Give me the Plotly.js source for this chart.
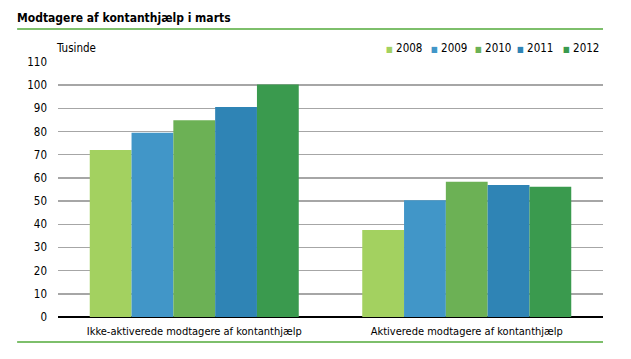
<!DOCTYPE html>
<html><head><meta charset="utf-8">
<script src="https://cdn.plot.ly/plotly-3.0.1.min.js"></script>
<style>html,body{margin:0;padding:0;background:#fff}#c{width:631px;height:359px}</style>
</head><body><div id="c"></div>
<script>
const categories = ["Ikke-aktiverede modtagere af kontanthjælp", "Aktiverede modtagere af kontanthjælp"];
const years = ["2008", "2009", "2010", "2011", "2012"];
const v2008 = [72.0, 37.5];
const v2009 = [79.5, 50.4];
const v2010 = [84.9, 58.3];
const v2011 = [90.6, 56.9];
const v2012 = [100.3, 56.2];
const yTicks = [0,10,20,30,40,50,60,70,80,90,100,110];
const colors = ["#a3d160", "#4196c8", "#6cb155", "#2f84b5", "#3a9a4e"];
const series = [v2008, v2009, v2010, v2011, v2012];
const FONT = "'DejaVu Sans Condensed', 'Liberation Sans Narrow', Arial, sans-serif";
const traces = series.map((s, i) => ({
  type: "bar", name: years[i], x: categories, y: s,
  marker: {color: colors[i], line: {width: 0}}
}));
// legend entries as annotations (positions in paper fraction)
const legendX = [0.598, 0.681, 0.761, 0.838, 0.923];
const legendAnn = years.map((yr, i) => ({
  text: `<span style="color:${colors[i]};font-size:8px">■</span> ${yr}`,
  xref: "paper", yref: "paper", x: legendX[i], y: 1.055, xanchor: "left", yanchor: "middle",
  showarrow: false, font: {family: FONT, size: 11.5}
}));
const layout = {
  width: 631, height: 359,
  margin: {l: 58, r: 28, t: 62, b: 42},
  paper_bgcolor: "#fff", plot_bgcolor: "#fff",
  barmode: "group", bargap: 0.233, bargroupgap: 0,
  font: {family: FONT, size: 11, color: "#000"},
  showlegend: false,
  xaxis: {showgrid: false, tickfont: {family: FONT, size: 11}, ticks: "", showline: false, zeroline: false,
    ticklabelstandoff: 6},
  yaxis: {range: [0, 110], tickvals: yTicks, showgrid: true, gridcolor: "#a6a6a6", gridwidth: 1.5,
    zeroline: true, zerolinecolor: "#000", zerolinewidth: 1.5, ticks: "", ticklen: 0, automargin: false,
    tickfont: {family: FONT, size: 11.5}, showline: false, ticklabelstandoff: 10},
  annotations: [
    {text: "<b>Modtagere af kontanthjælp i marts</b>", xref: "paper", yref: "paper", x: -0.078, y: 1.173,
     xanchor: "left", yanchor: "middle", showarrow: false, font: {family: FONT, size: 12}},
    {text: "Tusinde", xref: "paper", yref: "paper", x: -0.007, y: 1.055, xanchor: "left", yanchor: "middle",
     showarrow: false, font: {family: FONT, size: 11.5}}
  ].concat(legendAnn),
  shapes: [
    {type: "line", xref: "paper", yref: "paper", x0: -0.075, x1: 1.0, y0: 1.129, y1: 1.129,
     line: {color: "#7dbf6b", width: 2}},
    {type: "line", xref: "paper", yref: "paper", x0: -0.075, x1: 1.0, y0: -0.098, y1: -0.098,
     line: {color: "#7dbf6b", width: 2}}
  ]
};
Plotly.newPlot("c", traces, layout, {displayModeBar: false, staticPlot: true});
</script></body></html>
